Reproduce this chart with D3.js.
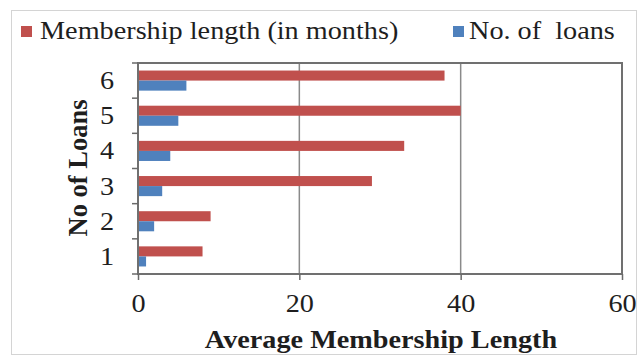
<!DOCTYPE html>
<html>
<head>
<meta charset="utf-8">
<script src="https://cdn.jsdelivr.net/npm/d3@7"></script>
<style>
  html, body { margin: 0; padding: 0; background: #fff; }
  svg { display: block; }
  text { font-family: "Liberation Serif", "Times New Roman", serif; fill: #1e1e1e; }
</style>
</head>
<body>
<svg id="chart" width="642" height="358"></svg>
<script>
// Loan categories (number of loans) and the two series per category
const categories = ["1", "2", "3", "4", "5", "6"];
const membershipMonths = [8, 9, 29, 33, 40, 38];
const loanCounts = [1, 2, 3, 4, 5, 6];
const xTicks = [0, 20, 40, 60];
const seriesNames = ["Membership length (in months)", "No. of  loans"];
const seriesColors = ["#C0504D", "#4F81BD"];

const plot = { left: 138, top: 63, right: 622, bottom: 274 };
const stretch = 1.13; // horizontal widening of the lettering
const fontSize = 25;

const svg = d3.select("#chart");

// outer chart frame
svg.append("rect")
  .attr("x", 11.5).attr("y", 10.5)
  .attr("width", 625).attr("height", 344)
  .attr("fill", "#fff").attr("stroke", "#d4d4d4").attr("stroke-width", 1);

const x = d3.scaleLinear().domain([0, 60]).range([plot.left, plot.right]);
// categories listed bottom-to-top
const y = d3.scaleBand().domain(categories.slice().reverse())
  .range([plot.top, plot.bottom]).paddingInner(0).paddingOuter(0);
const inner = d3.scaleBand().domain([0, 1])
  .range([0, y.bandwidth()]).paddingInner(0).paddingOuter(0.75);

// vertical gridlines
svg.append("g").selectAll("line").data(xTicks.slice(1, -1)).join("line")
  .attr("x1", d => x(d)).attr("x2", d => x(d))
  .attr("y1", plot.top).attr("y2", plot.bottom)
  .attr("stroke", "#8a8a8a").attr("stroke-width", 1.5);

// bars
const rows = categories.map((c, i) => ({ c, vals: [membershipMonths[i], loanCounts[i]] }));
const g = svg.append("g");
rows.forEach(r => {
  g.selectAll(null).data(r.vals).join("rect")
    .attr("x", x(0))
    .attr("y", (d, k) => y(r.c) + inner(k))
    .attr("width", d => x(d) - x(0))
    .attr("height", inner.bandwidth())
    .attr("fill", (d, k) => seriesColors[k]);
});

// plot frame
svg.append("rect")
  .attr("x", plot.left).attr("y", plot.top)
  .attr("width", plot.right - plot.left).attr("height", plot.bottom - plot.top)
  .attr("fill", "none").attr("stroke", "#707070").attr("stroke-width", 2);

// x axis
const xAxis = d3.axisBottom(x).tickValues(xTicks).tickSize(6).tickPadding(0).tickFormat(d3.format("d"));
const gx = svg.append("g").attr("transform", `translate(0,${plot.bottom})`).call(xAxis);
gx.select(".domain").remove();
gx.selectAll(".tick line").attr("stroke", "#6a6a6a").attr("stroke-width", 1.5);
gx.selectAll(".tick text")
  .attr("font-size", fontSize).attr("dy", null)
  .attr("y", 0)
  .attr("transform", `translate(0,38) scale(${stretch},1)`);

// y axis: ticks sit on category boundaries, labels in the middle
const bounds = d3.range(categories.length + 1).map(i => plot.top + i * y.step());
svg.append("g").selectAll("line").data(bounds).join("line")
  .attr("x1", plot.left - 6).attr("x2", plot.left)
  .attr("y1", d => d).attr("y2", d => d)
  .attr("stroke", "#6a6a6a").attr("stroke-width", 1.5);
const yAxis = d3.axisLeft(y).tickSize(0).tickPadding(0);
const gy = svg.append("g").attr("transform", `translate(${plot.left},0)`).call(yAxis);
gy.select(".domain").remove();
gy.selectAll(".tick text")
  .attr("font-size", fontSize).attr("x", 0).attr("dy", "0.34em")
  .attr("transform", `translate(-24,0) scale(${stretch},1)`);

// axis titles
svg.append("text")
  .attr("transform", `translate(381,348) scale(${stretch},1)`)
  .attr("text-anchor", "middle").attr("font-weight", "bold").attr("font-size", fontSize)
  .text("Average Membership Length");
svg.append("text")
  .attr("transform", `translate(87,168) rotate(-90)`)
  .attr("text-anchor", "middle").attr("font-weight", "bold").attr("font-size", 26.5)
  .text("No of Loans");

// legend
const legendItems = [
  { name: seriesNames[0], color: seriesColors[0], x: 21, tx: 40 },
  { name: seriesNames[1], color: seriesColors[1], x: 453, tx: 469 }
];
const lg = svg.append("g");
legendItems.forEach(it => {
  lg.append("rect").attr("x", it.x).attr("y", 26).attr("width", 11).attr("height", 11).attr("fill", it.color);
  lg.append("text")
    .attr("transform", `translate(${it.tx},39) scale(${stretch},1)`)
    .attr("font-size", fontSize).attr("xml:space", "preserve").style("white-space", "pre")
    .text(it.name);
});
</script>
</body>
</html>
